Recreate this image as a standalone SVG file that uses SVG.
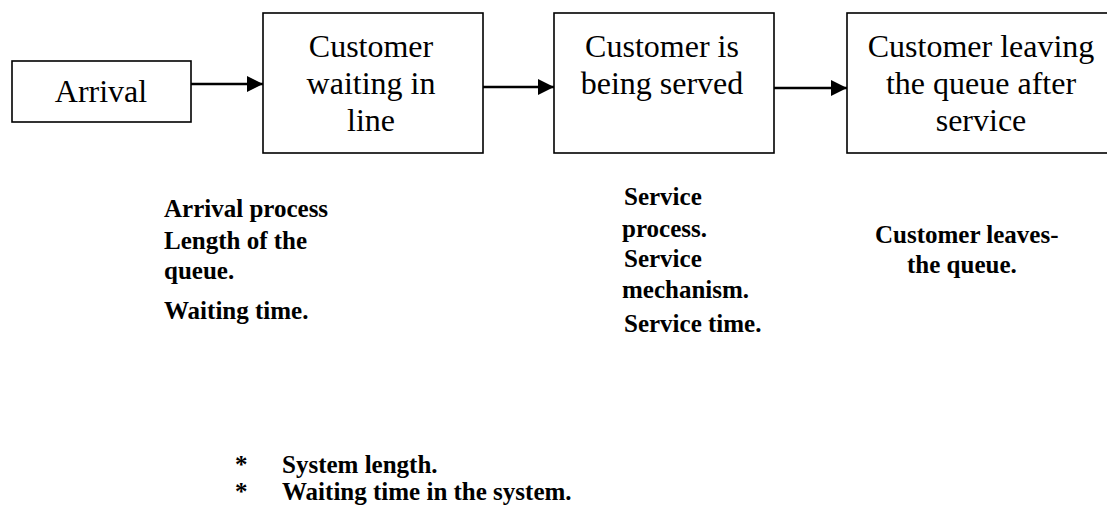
<svg xmlns="http://www.w3.org/2000/svg" width="1107" height="506" viewBox="0 0 1107 506">
  <style>
    .box { fill: #ffffff; stroke: #000000; stroke-width: 1.6; }
    .big { font-family: "Liberation Serif", "Times New Roman", serif; font-size: 32px; fill: #000; text-anchor: middle; }
    .note { font-family: "Liberation Serif", "Times New Roman", serif; font-size: 25px; font-weight: bold; fill: #000; }
    .conn { stroke: #000; stroke-width: 2.6; fill: none; }
  </style>
  <defs>
    <marker id="arrow" markerUnits="userSpaceOnUse" markerWidth="17" markerHeight="18" refX="16" refY="8" orient="auto">
      <path d="M0,0 L16,8 L0,16 z" fill="#000"/>
    </marker>
  </defs>
  <rect width="1107" height="506" fill="#ffffff"/>

  <g id="connectors">
    <line class="conn" x1="191" y1="84" x2="263" y2="84" marker-end="url(#arrow)"/>
    <line class="conn" x1="483" y1="87" x2="554" y2="87" marker-end="url(#arrow)"/>
    <line class="conn" x1="774" y1="88" x2="847" y2="88" marker-end="url(#arrow)"/>
  </g>

  <g id="arrival">
    <rect class="box" x="12" y="61" width="179" height="61"/>
    <text class="big" x="101" y="102">Arrival</text>
  </g>

  <g id="waiting">
    <rect class="box" x="263" y="13" width="220" height="140"/>
    <text class="big" x="371" y="57">Customer</text>
    <text class="big" x="371" y="94">waiting in</text>
    <text class="big" x="371" y="131">line</text>
  </g>

  <g id="served">
    <rect class="box" x="554" y="13" width="220" height="140"/>
    <text class="big" x="662" y="57">Customer is</text>
    <text class="big" x="662" y="94">being served</text>
  </g>

  <g id="leaving">
    <rect class="box" x="847" y="13" width="280" height="140"/>
    <text class="big" x="981" y="57">Customer leaving</text>
    <text class="big" x="981" y="94">the queue after</text>
    <text class="big" x="981" y="131">service</text>
  </g>

  <g id="arrival-notes">
    <text class="note" x="164" y="217">Arrival process</text>
    <text class="note" x="164" y="249">Length of the</text>
    <text class="note" x="164" y="279">queue.</text>
    <text class="note" x="164" y="319">Waiting time.</text>
  </g>

  <g id="service-notes">
    <text class="note" x="624" y="205">Service</text>
    <text class="note" x="622" y="237">process.</text>
    <text class="note" x="624" y="267">Service</text>
    <text class="note" x="622" y="298">mechanism.</text>
    <text class="note" x="624" y="332">Service time.</text>
  </g>

  <g id="leaving-notes">
    <text class="note" x="875" y="243">Customer leaves-</text>
    <text class="note" x="907" y="273">the queue.</text>
  </g>

  <g id="system-notes">
    <text class="note" x="235" y="473">*</text>
    <text class="note" x="282" y="473">System length.</text>
    <text class="note" x="235" y="500">*</text>
    <text class="note" x="282" y="500">Waiting time in the system.</text>
  </g>
</svg>
